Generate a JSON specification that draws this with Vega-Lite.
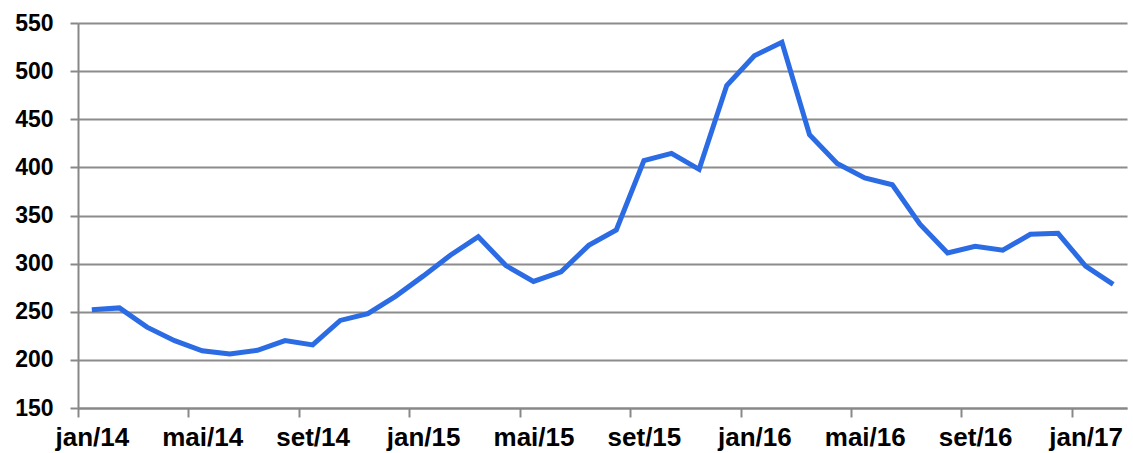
{
  "$schema": "https://vega.github.io/schema/vega-lite/v6.json",
  "width": 1049,
  "height": 385,
  "autosize": {"type": "none"},
  "padding": {"left": 78, "top": 23, "right": 6, "bottom": 45},
  "background": "white",
  "config": {"view": {"stroke": null}, "font": "Liberation Sans"},
  "data": {"values": [
    {"month": "jan/14", "value": 252},
    {"month": "fev/14", "value": 254},
    {"month": "mar/14", "value": 234},
    {"month": "abr/14", "value": 220},
    {"month": "mai/14", "value": 209.5},
    {"month": "jun/14", "value": 206},
    {"month": "jul/14", "value": 210},
    {"month": "ago/14", "value": 220},
    {"month": "set/14", "value": 215.5},
    {"month": "out/14", "value": 241},
    {"month": "nov/14", "value": 248},
    {"month": "dez/14", "value": 266},
    {"month": "jan/15", "value": 287},
    {"month": "fev/15", "value": 309},
    {"month": "mar/15", "value": 328},
    {"month": "abr/15", "value": 298},
    {"month": "mai/15", "value": 281.5},
    {"month": "jun/15", "value": 291.5},
    {"month": "jul/15", "value": 319},
    {"month": "ago/15", "value": 335},
    {"month": "set/15", "value": 407},
    {"month": "out/15", "value": 414.5},
    {"month": "nov/15", "value": 398},
    {"month": "dez/15", "value": 485},
    {"month": "jan/16", "value": 516},
    {"month": "fev/16", "value": 530},
    {"month": "mar/16", "value": 434},
    {"month": "abr/16", "value": 404},
    {"month": "mai/16", "value": 389},
    {"month": "jun/16", "value": 382},
    {"month": "jul/16", "value": 341},
    {"month": "ago/16", "value": 311},
    {"month": "set/16", "value": 318},
    {"month": "out/16", "value": 314},
    {"month": "nov/16", "value": 330.5},
    {"month": "dez/16", "value": 331.5},
    {"month": "jan/17", "value": 297.5},
    {"month": "fev/17", "value": 278.5}
  ]},
  "mark": {"type": "line", "color": "#2b6be3", "strokeWidth": 5},
  "encoding": {
    "x": {
      "field": "month",
      "type": "ordinal",
      "sort": null,
      "bandPosition": 0.5,
      "scale": {"type": "band", "paddingInner": 0, "paddingOuter": 0},
      "axis": {
        "values": ["jan/14", "mai/14", "set/14", "jan/15", "mai/15", "set/15", "jan/16", "mai/16", "set/16", "jan/17"],
        "bandPosition": 0.5,
        "tickOffset": -13.8,
        "labelOffset": 13.8,
        "labelAngle": 0,
        "title": null,
        "grid": false,
        "domainColor": "#888888",
        "domainWidth": 2,
        "tickColor": "#888888",
        "tickWidth": 2,
        "tickSize": 9,
        "labelFont": "Liberation Sans",
        "labelFontSize": 26,
        "labelFontWeight": "bold",
        "labelColor": "#000000",
        "labelPadding": 7
      }
    },
    "y": {
      "field": "value",
      "type": "quantitative",
      "scale": {"domain": [150, 550], "nice": false, "zero": false},
      "axis": {
        "values": [150, 200, 250, 300, 350, 400, 450, 500, 550],
        "title": null,
        "grid": true,
        "gridColor": "#8c8c8c",
        "gridWidth": 2,
        "gridOpacity": 1,
        "domainColor": "#888888",
        "domainWidth": 2,
        "tickColor": "#888888",
        "tickWidth": 2,
        "tickSize": 8,
        "labelFont": "Liberation Sans",
        "labelFontSize": 23,
        "labelFontWeight": "bold",
        "labelColor": "#000000",
        "labelPadding": 17
      }
    }
  }
}
